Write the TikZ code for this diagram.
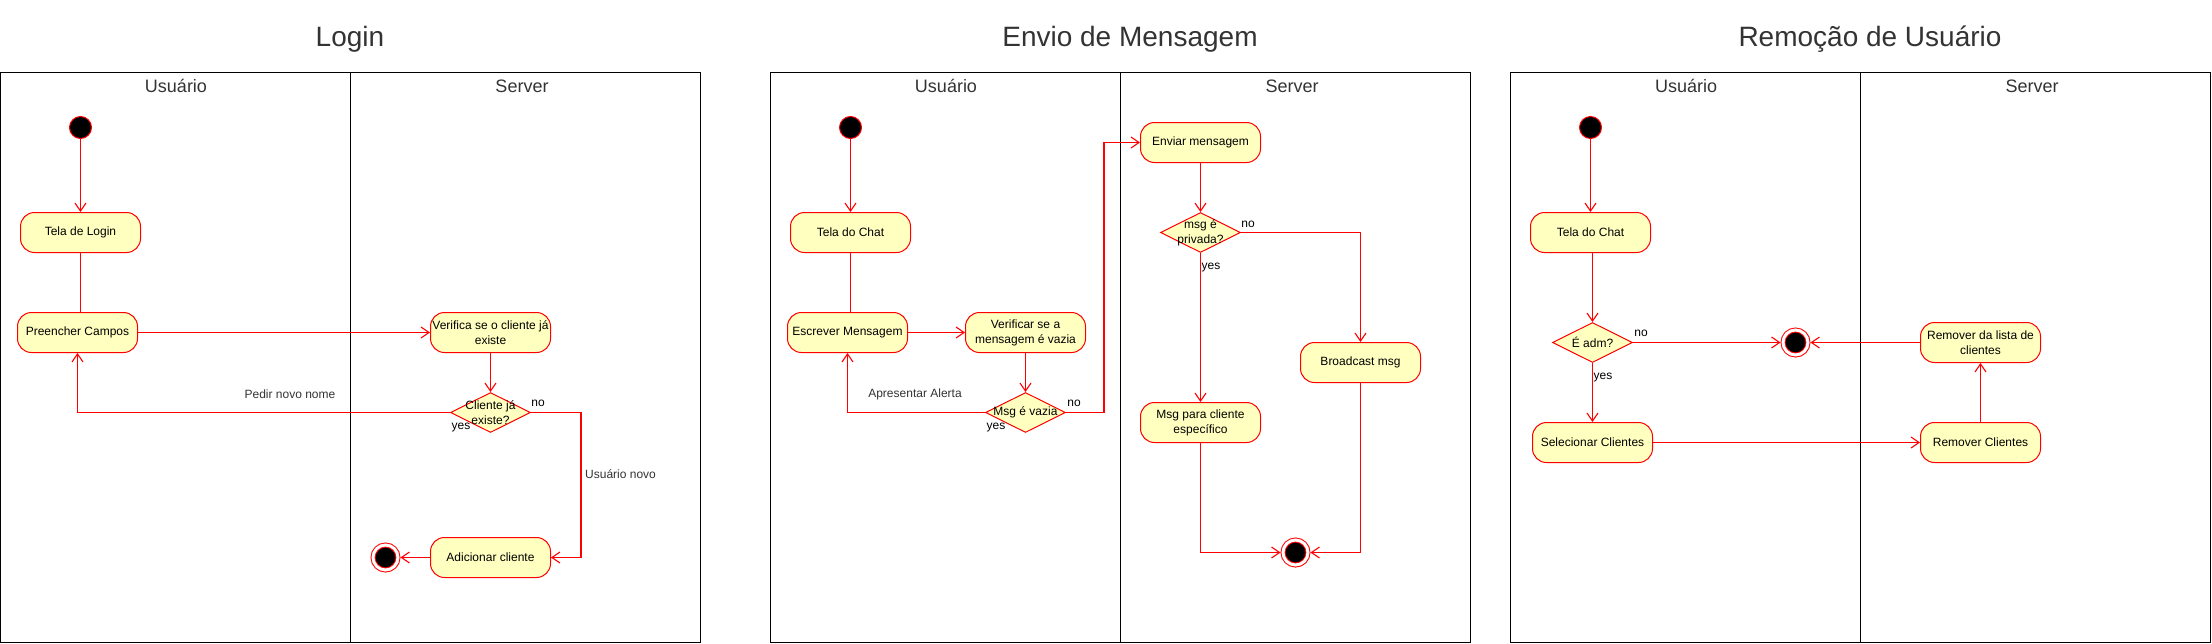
\documentclass[tikz,border=0pt]{standalone}
\usepackage{fontspec}
\setmainfont{Liberation Sans}
\usetikzlibrary{arrows.meta, shapes.geometric}
\definecolor{amarelo}{HTML}{FFFFC0}
\definecolor{cinza}{HTML}{333333}

\begin{document}
\begin{tikzpicture}[x=1pt, y=-1pt, >={Straight Barb[length=8pt,width=11pt]},
    atividade/.style={rectangle, rounded corners=14pt, draw=red, line width=1pt, fill=amarelo, minimum width=120pt,
        minimum height=40pt, inner sep=1pt, align=center, font=\fontsize{12}{15}\selectfont},
    decisao/.style={diamond, draw=red, line width=1pt, fill=amarelo, minimum width=80pt, minimum height=40pt, inner sep=0pt,
        label={[font=\fontsize{12}{15}\selectfont, align=center, inner sep=0pt]center:#1}},
    inicio/.style={circle, draw=red, line width=1pt, fill=black, minimum size=22pt, inner sep=0pt},
    fim/.style={circle, draw=red, line width=1pt, fill=black, double=white, double distance=3pt, minimum size=25pt,
        inner sep=0pt, outer sep=2.5pt},
    fluxo/.style={red, line width=1.1pt},
    moldura/.style={line width=1pt},
    rotulo/.style={font=\fontsize{12}{15}\selectfont, text=cinza, anchor=base, inner sep=0pt},
    titulo/.style={font=\fontsize{28}{32}\selectfont, text=cinza, anchor=base},
    raia/.style={font=\fontsize{18}{20}\selectfont, text=cinza, anchor=base}]
    \useasboundingbox (0,0) rectangle (2212,643);

    % Raias
    \draw[moldura] (0.5,72.5) rectangle (700.5,642.5);
    \draw[moldura] (350.5,72.5) -- (350.5,642.5);
    \draw[moldura] (770.5,72.5) rectangle (1470.5,642.5);
    \draw[moldura] (1120.5,72.5) -- (1120.5,642.5);
    \draw[moldura] (1510.5,72.5) rectangle (2210.5,642.5);
    \draw[moldura] (1860.5,72.5) -- (1860.5,642.5);

    % Titulos
    \node[titulo] (tLogin) at (350,46) {Login};
    \node[titulo] (tEnvio) at (1130,46) {Envio de Mensagem};
    \node[titulo] (tRemocao) at (1870,46) {Remoção de Usuário};
    \node[raia] (rUsuario1) at (176,92) {Usuário};
    \node[raia] (rServer1) at (522,92) {Server};
    \node[raia] (rUsuario2) at (946,92) {Usuário};
    \node[raia] (rServer2) at (1292,92) {Server};
    \node[raia] (rUsuario3) at (1686,92) {Usuário};
    \node[raia] (rServer3) at (2032,92) {Server};

    % Login
    \node[inicio] (ini1) at (80.5,127.5) {};
    \node[atividade] (telaLogin) at (80.5,232.5) {Tela de Login};
    \node[atividade] (preencher) at (77.5,332.5) {Preencher Campos};
    \node[atividade] (verifica) at (490.5,332.5) {Verifica se o cliente já\\existe};
    \node[decisao={Cliente já\\existe?}] (dec1) at (490.5,412.5) {};
    \node[atividade] (adicionar) at (490.5,557.5) {Adicionar cliente};
    \node[fim] (fim1) at (385.5,557.5) {};

    \draw[fluxo,->] (ini1) -- (telaLogin);
    \draw[fluxo] (telaLogin.south) -- (telaLogin.south |- preencher.north);
    \draw[fluxo,->] (preencher) -- (verifica);
    \draw[fluxo,->] (verifica) -- (dec1);
    \draw[fluxo,->] (dec1.west) -| (preencher.south);
    \draw[fluxo,->] (dec1.east) -- ++(50,0) |- (adicionar.east);
    \draw[fluxo,->] (adicionar) -- (fim1);
    \node[rotulo] (lPedir) at (290,398) {Pedir novo nome};
    \node[rotulo, text=black] (lSim1) at (461,429) {yes};
    \node[rotulo, text=black] (lNao1) at (538,406.5) {no};
    \node[rotulo, anchor=base west] (lNovo) at (585,478) {Usuário novo};

    % Envio de Mensagem
    \node[inicio] (ini2) at (850.5,127.5) {};
    \node[atividade] (telaChat1) at (850.5,232.5) {Tela do Chat};
    \node[atividade] (escrever) at (847.5,332.5) {Escrever Mensagem};
    \node[atividade] (verificar) at (1025.5,332.5) {Verificar se a\\mensagem é vazia};
    \node[decisao={Msg é vazia}] (dec2) at (1025.5,412.5) {};
    \node[atividade] (enviar) at (1200.5,142.5) {Enviar mensagem};
    \node[decisao={msg é\\privada?}] (dec3) at (1200.5,232.5) {};
    \node[atividade] (broadcast) at (1360.5,362.5) {Broadcast msg};
    \node[atividade] (msgPriv) at (1200.5,422.5) {Msg para cliente\\específico};
    \node[fim] (fim2) at (1295.5,552.5) {};

    \draw[fluxo,->] (ini2) -- (telaChat1);
    \draw[fluxo] (telaChat1.south) -- (telaChat1.south |- escrever.north);
    \draw[fluxo,->] (escrever) -- (verificar);
    \draw[fluxo,->] (verificar) -- (dec2);
    \draw[fluxo,->] (dec2.west) -| (escrever.south);
    \draw[fluxo,->] (dec2.east) -- ++(38,0) |- (enviar.west);
    \draw[fluxo,->] (enviar) -- (dec3);
    \draw[fluxo,->] (dec3.east) -| (broadcast.north);
    \draw[fluxo,->] (dec3.south) -- (msgPriv.north);
    \draw[fluxo,->] (msgPriv.south) |- (fim2.west);
    \draw[fluxo,->] (broadcast.south) |- (fim2.east);
    \node[rotulo] (lAlerta) at (915,397.5) {Apresentar Alerta};
    \node[rotulo, text=black] (lSim2) at (996,429) {yes};
    \node[rotulo, text=black] (lNao2) at (1074,406.5) {no};
    \node[rotulo, text=black] (lNao3) at (1248,227) {no};
    \node[rotulo, text=black] (lSim3) at (1211,269) {yes};

    % Remocao de Usuario
    \node[inicio] (ini3) at (1590.5,127.5) {};
    \node[atividade] (telaChat2) at (1590.5,232.5) {Tela do Chat};
    \node[decisao={É adm?}] (dec4) at (1592.5,342.5) {};
    \node[fim] (fim3) at (1795.5,342.5) {};
    \node[atividade] (selecionar) at (1592.5,442.5) {Selecionar Clientes};
    \node[atividade] (removerCli) at (1980.5,442.5) {Remover Clientes};
    \node[atividade] (removerLista) at (1980.5,342.5) {Remover da lista de\\clientes};

    \draw[fluxo,->] (ini3) -- (telaChat2);
    \draw[fluxo,->] (dec4.north |- telaChat2.south) -- (dec4.north);
    \draw[fluxo,->] (dec4) -- (fim3);
    \draw[fluxo,->] (dec4) -- (selecionar);
    \draw[fluxo,->] (selecionar) -- (removerCli);
    \draw[fluxo,->] (removerCli) -- (removerLista);
    \draw[fluxo,->] (removerLista) -- (fim3);
    \node[rotulo, text=black] (lNao4) at (1641,336.5) {no};
    \node[rotulo, text=black] (lSim4) at (1603,379) {yes};
\end{tikzpicture}
\end{document}
